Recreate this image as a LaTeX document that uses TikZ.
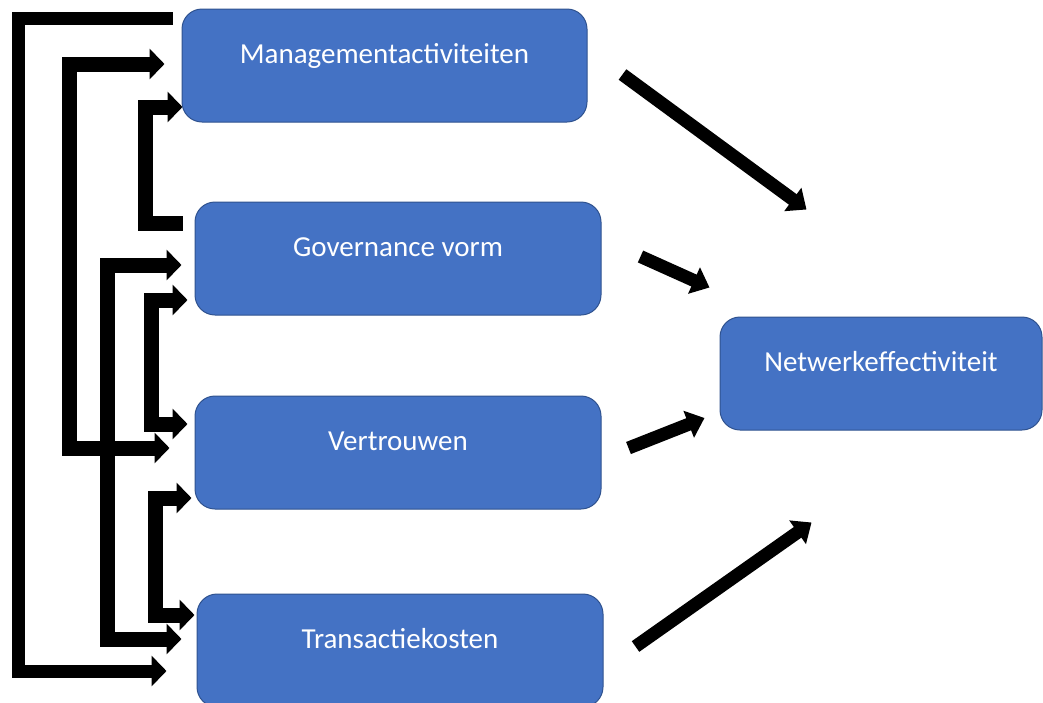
\documentclass[tikz,border=0pt]{standalone}
\usepackage{fontspec}
\setmainfont{Carlito}
\usetikzlibrary{arrows.meta,calc}
\definecolor{boxblue}{HTML}{4472C4}
\definecolor{boxborder}{HTML}{2F528F}
\begin{document}
\begin{tikzpicture}[x=1pt,y=-1pt,
  box/.style={draw=boxborder, line width=1pt, fill=boxblue, rounded corners=20pt,
    minimum width=405pt, minimum height=113pt, inner sep=0pt, text=white,
    font=\fontsize{29}{34}\selectfont, text height=20pt, text depth=25pt},
  conn/.style={line width=15pt, line join=miter, line cap=butt},
  thinconn/.style={line width=13pt, line join=miter, line cap=butt},
  >={Triangle[length=15pt,width=30pt]},
  diag/.style={line width=13pt, line cap=butt, -{Triangle[length=17pt,width=28pt]}}
]
\useasboundingbox (0,0) rectangle (1043,702);

% boxes
\node[box] (M) at (384.5,65.5) {Managementactiviteiten};
\node[box, minimum width=406pt] (G) at (398,258.5) {Governance vorm};
\node[box, minimum width=406pt] (V) at (398,452.5) {Vertrouwen};
\node[box, minimum width=406pt] (T) at (400,650.5) {Transactiekosten};
\node[box, minimum width=322pt] (N) at (881,373.5) {Netwerkeffectiviteit};

% corner columns of the elbow connectors
\coordinate (x1) at (18,0);
\coordinate (x2) at (69,0);
\coordinate (x3) at (145,0);
\coordinate (x4) at (107,0);
\coordinate (x5) at (151,0);
\coordinate (x6) at (155,0);

% connector end points
\coordinate (c1s) at ($(M.west)+(-9,-47.5)$);
\coordinate (c1e) at ($(T.west)+(-30,20.5)$);
\coordinate (c2s) at ($(M.west)+(-17,-1.5)$);
\coordinate (c2e) at ($(V.west)+(-25,-4.5)$);
\coordinate (c3s) at ($(G.west)+(-12,-35.5)$);
\coordinate (c3e) at ($(M.west)+(1,41.5)$);
\coordinate (c4s) at ($(G.west)+(-13,6.5)$);
\coordinate (c4e) at ($(T.west)+(-15,-11.5)$);
\coordinate (c5s) at ($(G.west)+(-7,41.5)$);
\coordinate (c5e) at ($(V.west)+(-7,-28.5)$);
\coordinate (c6s) at ($(V.west)+(-3,45.5)$);
\coordinate (c6e) at ($(T.west)+(-2,-35.5)$);

% elbow connectors
\draw[thinconn,->] (c1s) -- (c1s -| x1) -- (c1e -| x1) -- (c1e);
\draw[conn,<->] (c2s) -- (c2s -| x2) -- (c2e -| x2) -- (c2e);
\draw[conn,->] (c3s) -- (c3s -| x3) -- (c3e -| x3) -- (c3e);
\draw[conn,<->] (c4s) -- (c4s -| x4) -- (c4e -| x4) -- (c4e);
\draw[conn,<->] (c5s) -- (c5s -| x5) -- (c5e -| x5) -- (c5e);
\draw[conn,<->] (c6s) -- (c6s -| x6) -- (c6e -| x6) -- (c6e);

% diagonal arrows to Netwerkeffectiviteit
\coordinate (d1s) at ($(M.east)+(35,9)$);
\coordinate (d1e) at ($(N.north west)+(87,-107)$);
\coordinate (d2s) at ($(G.east)+(39,-2)$);
\coordinate (d2e) at ($(N.north west)+(-10,-29)$);
\coordinate (d3s) at ($(V.east)+(27,-4.5)$);
\coordinate (d3e) at ($(N.west)+(-15,44.5)$);
\coordinate (d4s) at ($(T.east)+(32,-4)$);
\coordinate (d4e) at ($(N.south west)+(92,92)$);
\draw[diag] (d1s) -- (d1e);
\draw[diag] (d2s) -- (d2e);
\draw[diag] (d3s) -- (d3e);
\draw[diag] (d4s) -- (d4e);
\end{tikzpicture}
\end{document}
